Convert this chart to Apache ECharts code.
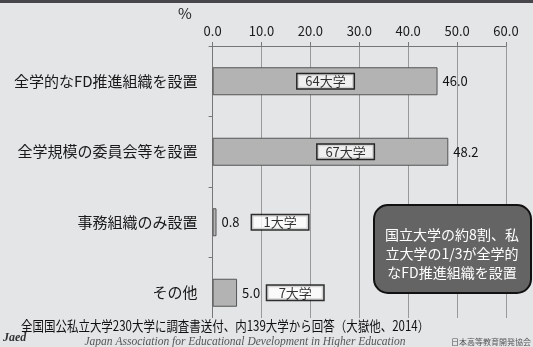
<!DOCTYPE html>
<html>
<head>
<meta charset="utf-8">
<script src="https://cdn.jsdelivr.net/npm/echarts@6/dist/echarts.min.js"></script>
<style>
  html, body { margin: 0; padding: 0; background: #e3e5e7; }
  #main { width: 533px; height: 347px; }
</style>
</head>
<body>
<div id="main"></div>
<script>
// 設置形態（%）
const categories = ["全学的なFD推進組織を設置", "全学規模の委員会等を設置", "事務組織のみ設置", "その他"];
const percents = [46.0, 48.2, 0.8, 5.0];
// 大学数ラベルとその位置（%軸上）
const schoolCounts = ["64大学", "67大学", "1大学", "7大学"];
const schoolCountAt = [23.1, 27.2, 13.8, 16.9];
const xTicks = { min: 0, max: 60, interval: 10 };

const font = '"Noto Sans CJK JP", "Noto Sans", sans-serif';
const bg = "#e3e5e7";

let chart = echarts.init(document.getElementById("main"));

let option = {
  backgroundColor: bg,
  animation: false,
  textStyle: { fontFamily: font },
  grid: { left: 212.6, right: 27, top: 46, bottom: 19 },
  xAxis: {
    type: "value",
    position: "top",
    min: xTicks.min,
    max: xTicks.max,
    interval: xTicks.interval,
    axisLine: { show: true, lineStyle: { color: "#777", width: 1 } },
    axisTick: { show: true, length: 4, lineStyle: { color: "#777" } },
    splitLine: { show: true, lineStyle: { color: "#999", width: 1 } },
    axisLabel: {
      fontSize: 13,
      color: "#1a1a1a",
      margin: 8,
      formatter: (v) => v.toFixed(1),
    },
  },
  yAxis: {
    type: "category",
    inverse: true,
    data: categories,
    axisLine: { show: true, lineStyle: { color: "#777", width: 1 } },
    axisTick: { show: true, length: 4, lineStyle: { color: "#777" } },
    axisLabel: { fontSize: 15, color: "#1a1a1a", margin: 15 },
  },
  series: [
    {
      type: "bar",
      data: percents,
      barWidth: 28,
      itemStyle: { color: "#b3b3b3", borderColor: "#555", borderWidth: 1 },
      label: {
        show: true,
        position: "right",
        distance: 5,
        fontSize: 13,
        color: "#111",
        formatter: (p) => p.value.toFixed(1),
      },
      z: 2,
    },
    {
      type: "scatter",
      data: schoolCountAt.map((x, i) => [x, i]),
      symbolSize: 1,
      itemStyle: { color: "transparent" },
      label: {
        show: true,
        position: "inside",
        fontSize: 13,
        color: "#000",
        backgroundColor: "#fff",
        borderColor: "#000",
        borderWidth: 1.5,
        width: 42,
        align: "center",
        padding: [1, 7, 0, 7],
        formatter: (p) => schoolCounts[p.dataIndex],
      },
      z: 5,
    },
  ],
  graphic: [
    { type: "rect", shape: { x: 0, y: 0, width: 533, height: 3 }, style: { fill: "#47474b" }, z: 10 },
    { type: "text", x: 178, y: 6, style: { text: "%", font: "15px " + font, fill: "#222" }, z: 10 },
    { type: "rect", shape: { x: 0, y: 318, width: 533, height: 29 }, style: { fill: bg }, z: 10 },
    {
      type: "rect",
      shape: { x: 374, y: 205, width: 157, height: 88, r: 14 },
      style: { fill: "#646464", stroke: "#111", lineWidth: 2 },
      z: 10,
    },
    {
      type: "text",
      x: 452,
      y: 254,
      style: {
        text: "国立大学の約8割、私\n立大学の1/3が全学的\nなFD推進組織を設置",
        font: "14px " + font,
        lineHeight: 19,
        fill: "#fff",
        align: "center",
        verticalAlign: "middle",
      },
      z: 11,
    },
    {
      type: "text",
      x: 21,
      y: 319,
      scaleX: 0.82,
      style: {
        text: "全国国公私立大学230大学に調査書送付、内139大学から回答（大嶽他、2014）",
        font: "14px " + font,
        fill: "#111",
      },
      z: 11,
    },
    {
      type: "text",
      x: 3,
      y: 332,
      style: { text: "Jaed", font: "italic bold 12px 'Liberation Serif', serif", fill: "#333" },
      z: 11,
    },
    {
      type: "text",
      x: 245,
      y: 342,
      style: {
        text: "Japan Association for Educational Development in Higher Education",
        font: "italic 11.5px 'Liberation Serif', serif",
        fill: "#555",
        align: "center",
        verticalAlign: "middle",
      },
      z: 11,
    },
    {
      type: "text",
      x: 491,
      y: 342,
      style: {
        text: "日本高等教育開発協会",
        font: "8px " + font,
        fill: "#555",
        align: "center",
        verticalAlign: "middle",
      },
      z: 11,
    },
  ],
};
option && chart.setOption(option);
</script>
</body>
</html>
